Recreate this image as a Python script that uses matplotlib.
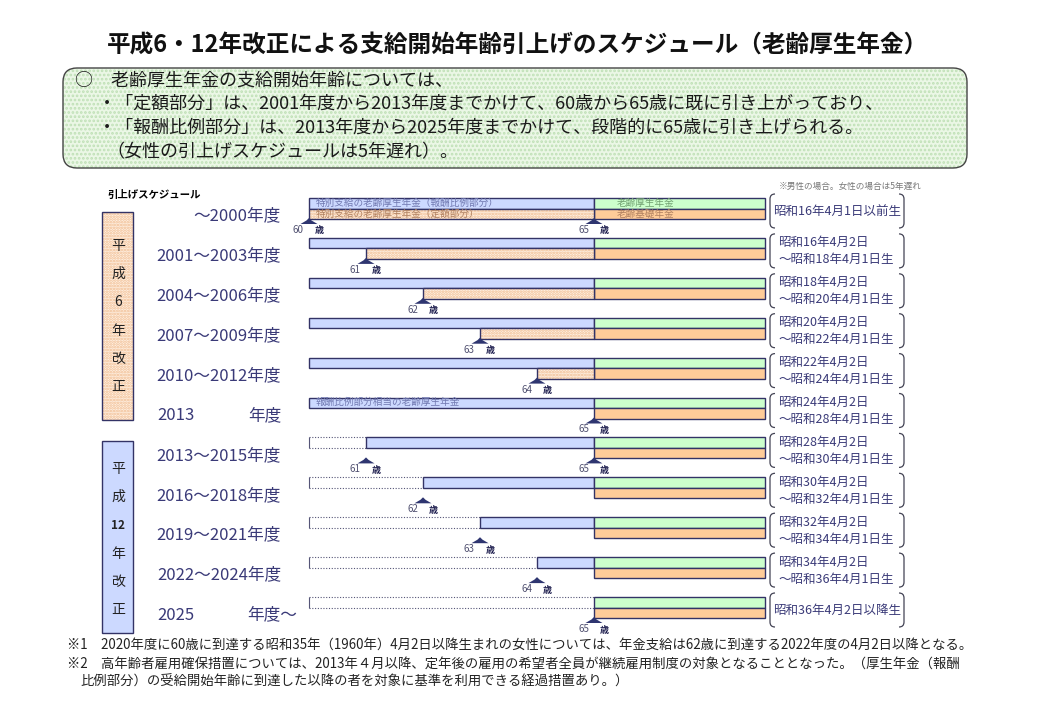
import numpy as np
import matplotlib.pyplot as plt
from matplotlib.patches import FancyBboxPatch, Rectangle, Polygon, PathPatch
from matplotlib.path import Path

plt.rcParams['font.family'] = ['Noto Sans CJK JP', 'DejaVu Sans']
plt.rcParams['hatch.linewidth'] = 1.3

# ---- data ----
title = '平成6・12年改正による支給開始年齢引上げのスケジュール（老齢厚生年金）'
summary = [
    '○　老齢厚生年金の支給開始年齢については、',
    '・「定額部分」は、2001年度から2013年度までかけて、60歳から65歳に既に引き上がっており、',
    '・「報酬比例部分」は、2013年度から2025年度までかけて、段階的に65歳に引き上げられる。',
    '（女性の引上げスケジュールは5年遅れ）。',
]
row_labels = [
    ('', '〜2000年度'), ('', '2001〜2003年度'), ('', '2004〜2006年度'),
    ('', '2007〜2009年度'), ('', '2010〜2012年度'), ('2013', '年度'),
    ('', '2013〜2015年度'), ('', '2016〜2018年度'), ('', '2019〜2021年度'),
    ('', '2022〜2024年度'), ('2025', '年度〜'),
]
# start age of 報酬比例部分 and 定額部分 (None = no payment before 65)
prop_start = [60, 60, 60, 60, 60, 60, 61, 62, 63, 64, 65]
fixed_start = [60, 61, 62, 63, 64, None, None, None, None, None, None]
full_age = 65
end_age = 68
marks = [[60, 65], [61], [62], [63], [64], [65], [61, 65], [62], [63], [64], [65]]
births = [
    ['昭和16年4月1日以前生'],
    ['昭和16年4月2日', '〜昭和18年4月1日生'],
    ['昭和18年4月2日', '〜昭和20年4月1日生'],
    ['昭和20年4月2日', '〜昭和22年4月1日生'],
    ['昭和22年4月2日', '〜昭和24年4月1日生'],
    ['昭和24年4月2日', '〜昭和28年4月1日生'],
    ['昭和28年4月2日', '〜昭和30年4月1日生'],
    ['昭和30年4月2日', '〜昭和32年4月1日生'],
    ['昭和32年4月2日', '〜昭和34年4月1日生'],
    ['昭和34年4月2日', '〜昭和36年4月1日生'],
    ['昭和36年4月2日以降生'],
]
notes = [
    '※1　2020年度に60歳に到達する昭和35年（1960年）4月2日以降生まれの女性については、年金支給は62歳に到達する2022年度の4月2日以降となる。',
    '※2　高年齢者雇用確保措置については、2013年４月以降、定年後の雇用の希望者全員が継続雇用制度の対象となることとなった。（厚生年金（報酬',
    '比例部分）の受給開始年齢に到達した以降の者を対象に基準を利用できる経過措置あり。）',
]

navy = '#333366'
blue = '#ccd9ff'
green = '#ccffcc'
orange = '#ffcc99'
txt_navy = '#3a3a78'
hatch_fill, hatch_col = '#fff1e4', '#f0bc90'

# layout (pixels)
W, H = 1040, 720
x60, pxy = 309, 57.0
row0, rowh = 198, 39.9
bh = 10.5 / rowh

fig = plt.figure(figsize=(10.4, 7.2), dpi=100)
ax = fig.add_axes([0, 0, 1, 1])
ax.set_xlim(60 - x60 / pxy, 60 + (W - x60) / pxy)
ax.set_ylim((H - row0) / rowh, -row0 / rowh)
ax.axis('off')
px = fig.add_axes([0, 0, 1, 1])
px.set_xlim(0, W)
px.set_ylim(H, 0)
px.axis('off')

rows = np.arange(len(prop_start))
ps = np.array(prop_start, dtype=float)

# 報酬比例部分 (blue)
m = ps < full_age
ax.barh(rows[m], full_age - ps[m], left=ps[m], height=bh, align='edge',
        color=blue, edgecolor=navy, lw=1.0)
# 老齢厚生年金 / 老齢基礎年金
ax.barh(rows, end_age - full_age, left=full_age, height=bh, align='edge',
        color=green, edgecolor=navy, lw=1.0)
ax.barh(rows + bh, end_age - full_age, left=full_age, height=bh, align='edge',
        color=orange, edgecolor=navy, lw=1.0)
# 定額部分 (hatched)
fr = np.array([r for r in rows if fixed_start[r] is not None])
fs = np.array([fixed_start[r] for r in fr], dtype=float)
ax.barh(fr + bh, full_age - fs, left=fs, height=bh, align='edge',
        color=hatch_fill, edgecolor=hatch_col, hatch='......', lw=0)
ax.barh(fr + bh, full_age - fs, left=fs, height=bh, align='edge',
        fill=False, edgecolor=navy, lw=1.0)
# already raised part (dotted outline)
gr = rows[ps > 60]
ax.hlines(gr, 60, ps[gr], colors='#555577', linestyles=(0, (1, 1.5)), lw=0.8)
ax.hlines(gr + bh, 60, ps[gr], colors='#555577', linestyles=(0, (1, 1.5)), lw=0.8)
ax.vlines(np.full(len(gr), 60), gr, gr + bh, colors='#555577', lw=0.8)

# bar texts
fs_bar = 6.9
c_bar = '#7078b0'
ax.text(60 + 7 / pxy, 0 + bh / 2, '特別支給の老齢厚生年金（報酬比例部分）', fontsize=fs_bar,
        color=c_bar, va='center')
ax.text(60 + 7 / pxy, 0 + bh * 1.5, '特別支給の老齢厚生年金（定額部分）', fontsize=fs_bar,
        color='#b08060', va='center')
ax.text(65 + 23 / pxy, 0 + bh / 2, '老齢厚生年金', fontsize=fs_bar, color='#70a070', va='center')
ax.text(65 + 23 / pxy, 0 + bh * 1.5, '老齢基礎年金', fontsize=fs_bar, color='#b08060', va='center')
ax.text(60 + 7 / pxy, 5 + bh / 2, '報酬比例部分相当の老齢厚生年金', fontsize=fs_bar,
        color=c_bar, va='center')

# triangles + age labels
tw, yb, ya = 8.5 / pxy, 26 / rowh, 20 / rowh
for r, ages in enumerate(marks):
    for a in ages:
        pts = [(a - tw, r + yb), (a - tw * 0.3, r + yb - 3.5 / rowh), (a, r + ya),
               (a + tw * 0.3, r + yb - 3.5 / rowh), (a + tw, r + yb)]
        ax.add_patch(Polygon(pts, closed=True, color='#2e3570', lw=0))
        ax.text(a - 5 / pxy, r + 32 / rowh, str(a), fontsize=7, color='#505070',
                ha='right', va='center')
        ax.text(a + 6 / pxy, r + 33 / rowh, '歳', fontsize=6.5, color='#202050',
                ha='left', va='center', fontweight='bold')

# ---- overlay texts ----
px.text(518, 46, title, fontsize=17, fontweight='bold', ha='center', va='center', color='#111111')

px.add_patch(FancyBboxPatch((63, 68), 904, 100, boxstyle='round,pad=0,rounding_size=14',
                            facecolor='#ebf7e6', edgecolor='#bfe0b6', hatch='....', lw=0))
px.add_patch(FancyBboxPatch((63, 68), 904, 100, boxstyle='round,pad=0,rounding_size=14',
                            fill=False, edgecolor='#444444', lw=1.0))
sx = [75, 98, 98, 106]
sy = [81, 104, 128, 152]
for x, y, s in zip(sx, sy, summary):
    px.text(x, y, s, fontsize=13, ha='left', va='center', color='#1a1a1a')

px.text(107, 195, '引上げスケジュール', fontsize=7.5, fontweight='bold', ha='left', va='center')
px.text(922, 186, '※男性の場合。女性の場合は5年遅れ', fontsize=6.2, color='#777777',
        ha='right', va='center')

# vertical boxes
px.add_patch(Rectangle((102, 212), 31, 208, facecolor=hatch_fill, edgecolor=hatch_col,
                       hatch='......', lw=0))
px.add_patch(Rectangle((102, 212), 31, 208, fill=False, edgecolor=navy, lw=1.0))
px.add_patch(Rectangle((102, 441), 31, 192, facecolor=blue, edgecolor=navy, lw=1.0))
for i, ch in enumerate(['平', '成', '6', '年', '改', '正']):
    px.text(118, 246 + 28.2 * i, ch, fontsize=10, ha='center', va='center', color='#222222')
for i, ch in enumerate(['平', '成', '12', '年', '改', '正']):
    px.text(118, 469 + 28.2 * i, ch, fontsize=10 if ch != '12' else 8.5,
            ha='center', va='center', color='#222222',
            fontweight='bold' if ch == '12' else 'normal')

# row labels
for r, (left, right) in enumerate(row_labels):
    y = row0 + rowh * r + 18
    xr = 297 if right.endswith('〜') and left else 281
    px.text(xr, y, right, fontsize=12, ha='right', va='center', color=txt_navy)
    if left:
        px.text(157, y, left, fontsize=12, ha='left', va='center', color=txt_navy)

# brackets with birth dates
def bracket(x, y0, y1, d):
    verts = [(x + d, y0), (x, y0), (x, y0 + 5), (x, y1 - 5), (x, y1), (x + d, y1)]
    codes = [Path.MOVETO, Path.CURVE3, Path.CURVE3, Path.LINETO, Path.CURVE3, Path.CURVE3]
    px.add_patch(PathPatch(Path(verts, codes), fill=False, edgecolor='#444455', lw=0.9))

for r, lines in enumerate(births):
    top = row0 + rowh * r
    bracket(770, top - 4, top + 30, 5)
    bracket(904, top - 4, top + 30, -5)
    if len(lines) == 1:
        px.text(773, top + 13, lines[0], fontsize=9, ha='left', va='center', color=txt_navy)
    else:
        for k, s in enumerate(lines):
            px.text(778, top + 5 + 17 * k, s, fontsize=9, ha='left', va='center', color=txt_navy)

# footnotes
for x, y, s in zip([67, 67, 80], [645, 664, 682], notes):
    px.text(x, y, s, fontsize=9.6, ha='left', va='center', color='#222222')

fig.savefig('out.png', dpi=100)
